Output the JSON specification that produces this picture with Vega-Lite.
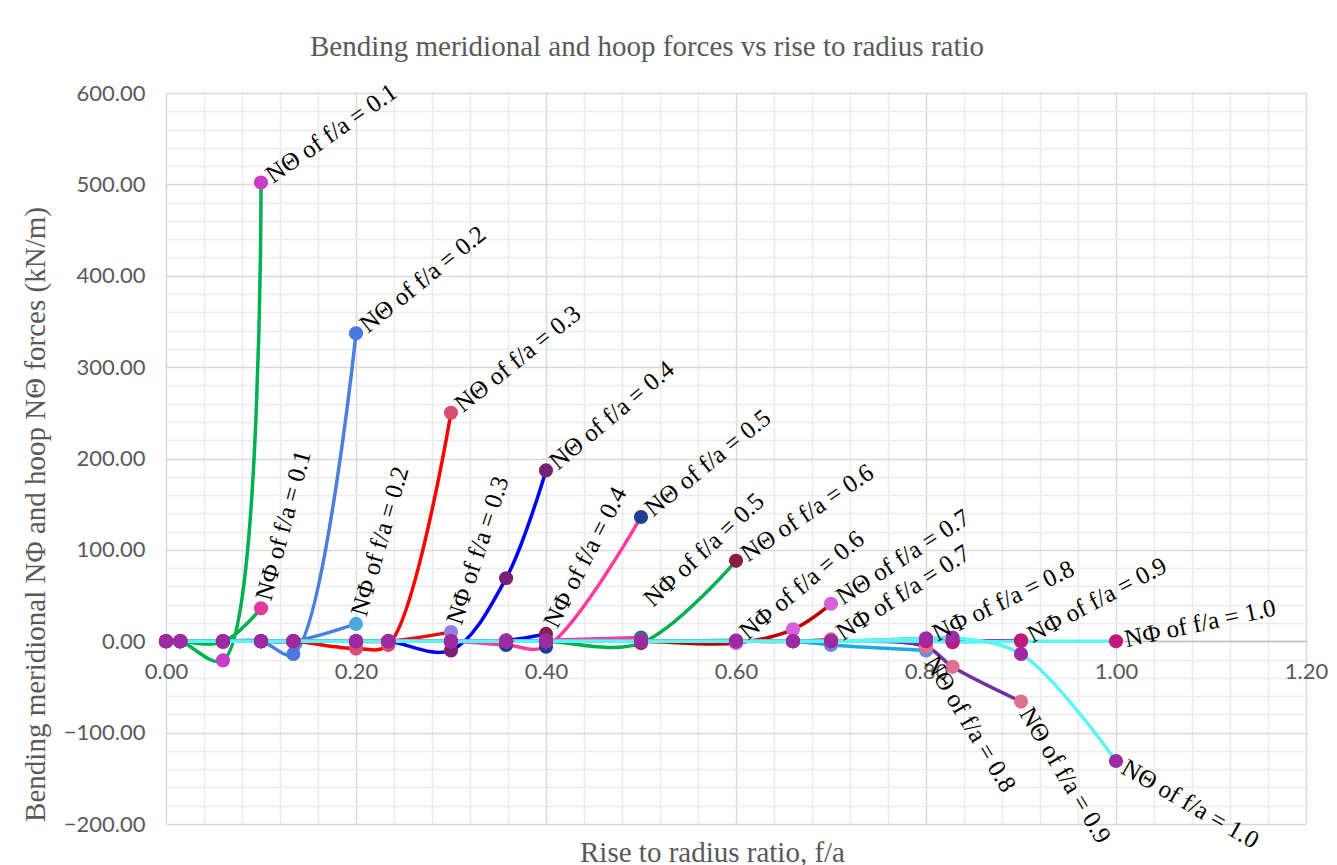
{
  "$schema": "https://vega.github.io/schema/vega-lite/v6.json",
  "width": 1140,
  "height": 731,
  "autosize": {"type": "none"},
  "padding": {"left": 166, "top": 93, "right": 31, "bottom": 41},
  "background": "white",
  "config": {"view": {"stroke": null}},
  "title": {
    "text": "Bending meridional and hoop forces vs rise to radius ratio",
    "font": "Liberation Serif",
    "fontSize": 29,
    "fontWeight": "normal",
    "color": "#595959",
    "anchor": "middle",
    "frame": "group",
    "dx": -89,
    "dy": 32,
    "offset": 26,
    "baseline": "alphabetic"
  },
  "datasets": {
    "pts": [
      {"s":"s01","x":0,"y":0},{"s":"s01","x":0.015,"y":0},{"s":"s01","x":0.06,"y":-1},{"s":"s01","x":0.1,"y":36},
      {"s":"s02","x":0,"y":0},{"s":"s02","x":0.015,"y":0},{"s":"s02","x":0.06,"y":-21},{"s":"s02","x":0.1,"y":502},
      {"s":"s03","x":0,"y":0},{"s":"s03","x":0.015,"y":0},{"s":"s03","x":0.06,"y":0},{"s":"s03","x":0.1,"y":0},{"s":"s03","x":0.134,"y":0},{"s":"s03","x":0.2,"y":19},
      {"s":"s04","x":0,"y":0},{"s":"s04","x":0.015,"y":0},{"s":"s04","x":0.06,"y":0},{"s":"s04","x":0.1,"y":0},{"s":"s04","x":0.134,"y":-14},{"s":"s04","x":0.2,"y":337},
      {"s":"s05","x":0,"y":0},{"s":"s05","x":0.015,"y":0},{"s":"s05","x":0.06,"y":0},{"s":"s05","x":0.1,"y":0},{"s":"s05","x":0.134,"y":0},{"s":"s05","x":0.2,"y":0},{"s":"s05","x":0.234,"y":0},{"s":"s05","x":0.3,"y":10},
      {"s":"s06","x":0,"y":0},{"s":"s06","x":0.015,"y":0},{"s":"s06","x":0.06,"y":0},{"s":"s06","x":0.1,"y":0},{"s":"s06","x":0.134,"y":0},{"s":"s06","x":0.2,"y":-8},{"s":"s06","x":0.234,"y":-4},{"s":"s06","x":0.3,"y":250},
      {"s":"s07","x":0,"y":0},{"s":"s07","x":0.015,"y":0},{"s":"s07","x":0.06,"y":0},{"s":"s07","x":0.1,"y":0},{"s":"s07","x":0.134,"y":0},{"s":"s07","x":0.2,"y":0},{"s":"s07","x":0.234,"y":0},{"s":"s07","x":0.3,"y":0},{"s":"s07","x":0.358,"y":1},{"s":"s07","x":0.4,"y":8},
      {"s":"s08","x":0,"y":0},{"s":"s08","x":0.015,"y":0},{"s":"s08","x":0.06,"y":0},{"s":"s08","x":0.1,"y":0},{"s":"s08","x":0.134,"y":0},{"s":"s08","x":0.2,"y":0},{"s":"s08","x":0.234,"y":0},{"s":"s08","x":0.3,"y":-10},{"s":"s08","x":0.358,"y":69},{"s":"s08","x":0.4,"y":187},
      {"s":"s09","x":0,"y":0},{"s":"s09","x":0.015,"y":0},{"s":"s09","x":0.06,"y":0},{"s":"s09","x":0.1,"y":0},{"s":"s09","x":0.134,"y":0},{"s":"s09","x":0.2,"y":0},{"s":"s09","x":0.234,"y":0},{"s":"s09","x":0.3,"y":0},{"s":"s09","x":0.358,"y":0},{"s":"s09","x":0.4,"y":1},{"s":"s09","x":0.5,"y":4},
      {"s":"s10","x":0,"y":0},{"s":"s10","x":0.015,"y":0},{"s":"s10","x":0.06,"y":0},{"s":"s10","x":0.1,"y":0},{"s":"s10","x":0.134,"y":0},{"s":"s10","x":0.2,"y":0},{"s":"s10","x":0.234,"y":0},{"s":"s10","x":0.3,"y":0},{"s":"s10","x":0.358,"y":-4},{"s":"s10","x":0.4,"y":-6},{"s":"s10","x":0.5,"y":136},
      {"s":"s11","x":0,"y":0},{"s":"s11","x":0.015,"y":0},{"s":"s11","x":0.06,"y":0},{"s":"s11","x":0.1,"y":0},{"s":"s11","x":0.134,"y":0},{"s":"s11","x":0.2,"y":0},{"s":"s11","x":0.234,"y":0},{"s":"s11","x":0.3,"y":0},{"s":"s11","x":0.358,"y":0},{"s":"s11","x":0.4,"y":0},{"s":"s11","x":0.5,"y":0},{"s":"s11","x":0.6,"y":1},
      {"s":"s12","x":0,"y":0},{"s":"s12","x":0.015,"y":0},{"s":"s12","x":0.06,"y":0},{"s":"s12","x":0.1,"y":0},{"s":"s12","x":0.134,"y":0},{"s":"s12","x":0.2,"y":0},{"s":"s12","x":0.234,"y":0},{"s":"s12","x":0.3,"y":0},{"s":"s12","x":0.358,"y":0},{"s":"s12","x":0.4,"y":0},{"s":"s12","x":0.5,"y":-2},{"s":"s12","x":0.6,"y":88},
      {"s":"s13","x":0,"y":0},{"s":"s13","x":0.015,"y":0},{"s":"s13","x":0.06,"y":0},{"s":"s13","x":0.1,"y":0},{"s":"s13","x":0.134,"y":0},{"s":"s13","x":0.2,"y":0},{"s":"s13","x":0.234,"y":0},{"s":"s13","x":0.3,"y":0},{"s":"s13","x":0.358,"y":0},{"s":"s13","x":0.4,"y":0},{"s":"s13","x":0.5,"y":0},{"s":"s13","x":0.6,"y":0},{"s":"s13","x":0.66,"y":0},{"s":"s13","x":0.7,"y":2},
      {"s":"s14","x":0,"y":0},{"s":"s14","x":0.015,"y":0},{"s":"s14","x":0.06,"y":0},{"s":"s14","x":0.1,"y":0},{"s":"s14","x":0.134,"y":0},{"s":"s14","x":0.2,"y":0},{"s":"s14","x":0.234,"y":0},{"s":"s14","x":0.3,"y":0},{"s":"s14","x":0.358,"y":0},{"s":"s14","x":0.4,"y":0},{"s":"s14","x":0.5,"y":0},{"s":"s14","x":0.6,"y":-2},{"s":"s14","x":0.66,"y":13},{"s":"s14","x":0.7,"y":41},
      {"s":"s15","x":0,"y":0},{"s":"s15","x":0.015,"y":0},{"s":"s15","x":0.06,"y":0},{"s":"s15","x":0.1,"y":0},{"s":"s15","x":0.134,"y":0},{"s":"s15","x":0.2,"y":0},{"s":"s15","x":0.234,"y":0},{"s":"s15","x":0.3,"y":0},{"s":"s15","x":0.358,"y":0},{"s":"s15","x":0.4,"y":0},{"s":"s15","x":0.5,"y":0},{"s":"s15","x":0.6,"y":0},{"s":"s15","x":0.66,"y":0},{"s":"s15","x":0.7,"y":0},{"s":"s15","x":0.8,"y":3},
      {"s":"s16","x":0,"y":0},{"s":"s16","x":0.015,"y":0},{"s":"s16","x":0.06,"y":0},{"s":"s16","x":0.1,"y":0},{"s":"s16","x":0.134,"y":0},{"s":"s16","x":0.2,"y":0},{"s":"s16","x":0.234,"y":0},{"s":"s16","x":0.3,"y":0},{"s":"s16","x":0.358,"y":0},{"s":"s16","x":0.4,"y":0},{"s":"s16","x":0.5,"y":0},{"s":"s16","x":0.6,"y":0},{"s":"s16","x":0.66,"y":0},{"s":"s16","x":0.7,"y":-4},{"s":"s16","x":0.8,"y":-10},
      {"s":"s17","x":0,"y":0},{"s":"s17","x":0.015,"y":0},{"s":"s17","x":0.06,"y":0},{"s":"s17","x":0.1,"y":0},{"s":"s17","x":0.134,"y":0},{"s":"s17","x":0.2,"y":0},{"s":"s17","x":0.234,"y":0},{"s":"s17","x":0.3,"y":0},{"s":"s17","x":0.358,"y":0},{"s":"s17","x":0.4,"y":0},{"s":"s17","x":0.5,"y":0},{"s":"s17","x":0.6,"y":0},{"s":"s17","x":0.66,"y":0},{"s":"s17","x":0.7,"y":0},{"s":"s17","x":0.8,"y":0},{"s":"s17","x":0.828,"y":0},{"s":"s17","x":0.9,"y":1},
      {"s":"s18","x":0,"y":0},{"s":"s18","x":0.015,"y":0},{"s":"s18","x":0.06,"y":0},{"s":"s18","x":0.1,"y":0},{"s":"s18","x":0.134,"y":0},{"s":"s18","x":0.2,"y":0},{"s":"s18","x":0.234,"y":0},{"s":"s18","x":0.3,"y":0},{"s":"s18","x":0.358,"y":0},{"s":"s18","x":0.4,"y":0},{"s":"s18","x":0.5,"y":0},{"s":"s18","x":0.6,"y":0},{"s":"s18","x":0.66,"y":0},{"s":"s18","x":0.7,"y":0},{"s":"s18","x":0.8,"y":-6},{"s":"s18","x":0.828,"y":-28},{"s":"s18","x":0.9,"y":-66},
      {"s":"s19","x":0,"y":0},{"s":"s19","x":0.015,"y":0},{"s":"s19","x":0.06,"y":0},{"s":"s19","x":0.1,"y":0},{"s":"s19","x":0.134,"y":0},{"s":"s19","x":0.2,"y":0},{"s":"s19","x":0.234,"y":0},{"s":"s19","x":0.3,"y":0},{"s":"s19","x":0.358,"y":0},{"s":"s19","x":0.4,"y":0},{"s":"s19","x":0.5,"y":0},{"s":"s19","x":0.6,"y":0},{"s":"s19","x":0.66,"y":0},{"s":"s19","x":0.7,"y":0},{"s":"s19","x":0.8,"y":0},{"s":"s19","x":0.828,"y":-1},{"s":"s19","x":0.9,"y":0},{"s":"s19","x":1.0,"y":0},
      {"s":"s20","x":0,"y":0},{"s":"s20","x":0.015,"y":0},{"s":"s20","x":0.06,"y":0},{"s":"s20","x":0.1,"y":0},{"s":"s20","x":0.134,"y":0},{"s":"s20","x":0.2,"y":0},{"s":"s20","x":0.234,"y":0},{"s":"s20","x":0.3,"y":0},{"s":"s20","x":0.358,"y":0},{"s":"s20","x":0.4,"y":0},{"s":"s20","x":0.5,"y":0},{"s":"s20","x":0.6,"y":0},{"s":"s20","x":0.66,"y":0},{"s":"s20","x":0.7,"y":0},{"s":"s20","x":0.8,"y":3},{"s":"s20","x":0.828,"y":4},{"s":"s20","x":0.9,"y":-14},{"s":"s20","x":1.0,"y":-131}
    ],
    "lbl": [
      {"s":"s01","label":"NΦ of f/a = 0.1","x":0.1,"y":36},
      {"s":"s02","label":"NΘ of f/a = 0.1","x":0.1,"y":502},
      {"s":"s03","label":"NΦ of f/a = 0.2","x":0.2,"y":19},
      {"s":"s04","label":"NΘ of f/a = 0.2","x":0.2,"y":337},
      {"s":"s05","label":"NΦ of f/a = 0.3","x":0.3,"y":10},
      {"s":"s06","label":"NΘ of f/a = 0.3","x":0.3,"y":250},
      {"s":"s07","label":"NΦ of f/a = 0.4","x":0.4,"y":8},
      {"s":"s08","label":"NΘ of f/a = 0.4","x":0.4,"y":187},
      {"s":"s09","label":"NΦ of f/a = 0.5","x":0.5,"y":36},
      {"s":"s10","label":"NΘ of f/a = 0.5","x":0.5,"y":136},
      {"s":"s11","label":"NΦ of f/a = 0.6","x":0.6,"y":1},
      {"s":"s12","label":"NΘ of f/a = 0.6","x":0.6,"y":88},
      {"s":"s13","label":"NΦ of f/a = 0.7","x":0.7,"y":2},
      {"s":"s14","label":"NΘ of f/a = 0.7","x":0.7,"y":41},
      {"s":"s15","label":"NΦ of f/a = 0.8","x":0.8,"y":3},
      {"s":"s16","label":"NΘ of f/a = 0.8","x":0.8,"y":-10},
      {"s":"s17","label":"NΦ of f/a = 0.9","x":0.9,"y":1},
      {"s":"s18","label":"NΘ of f/a = 0.9","x":0.9,"y":-66},
      {"s":"s19","label":"NΦ of f/a = 1.0","x":1.0,"y":0},
      {"s":"s20","label":"NΘ of f/a = 1.0","x":1.0,"y":-131}
    ]
  },
  "resolve": {"axis": {"x": "independent", "y": "independent"}},
  "layer": [
    {
      "data": {"name": "pts"},
      "mark": {"type": "line", "interpolate": "catmull-rom", "strokeWidth": 3.5},
      "encoding": {
        "x": {
          "field": "x", "type": "quantitative",
          "scale": {"domain": [0, 1.2], "nice": false, "zero": false},
          "axis": {
            "orient": "bottom", "offset": -183,
            "values": [0, 0.2, 0.4, 0.6, 0.8, 1.0, 1.2], "format": ".2f",
            "grid": true, "gridColor": "#D9D9D9", "gridWidth": 1.5,
            "domain": true, "domainColor": "#BFBFBF", "domainWidth": 1.5,
            "ticks": false, "labelPadding": 20, "labelFlush": false,
            "labelFont": "Lato", "labelFontSize": 22, "labelColor": "#595959",
            "title": "Rise to radius ratio, f/a",
            "titleFont": "Liberation Serif", "titleFontSize": 29, "titleFontWeight": "normal", "titleColor": "#595959",
            "titleX": 546, "titleY": 211, "titleBaseline": "middle", "titleAlign": "center"
          }
        },
        "y": {
          "field": "y", "type": "quantitative",
          "scale": {"domain": [-200, 600], "nice": false, "zero": false},
          "axis": {
            "orient": "left",
            "values": [-200, -100, 0, 100, 200, 300, 400, 500, 600], "format": ".2f",
            "grid": true, "gridColor": "#D9D9D9", "gridWidth": 1.5,
            "domain": false, "ticks": false, "labelPadding": 21, "labelFlush": false,
            "labelFont": "Lato", "labelFontSize": 22, "labelColor": "#595959",
            "title": "Bending meridional  NΦ and hoop NΘ forces (kN/m)",
            "titleFont": "Liberation Serif", "titleFontSize": 29, "titleFontWeight": "normal", "titleColor": "#595959",
            "titleAngle": 270, "titleX": -131, "titleY": 421, "titleBaseline": "middle", "titleAlign": "center"
          }
        },
        "stroke": {
          "field": "s", "type": "nominal", "legend": null,
          "scale": {
            "domain": ["s01","s02","s03","s04","s05","s06","s07","s08","s09","s10","s11","s12","s13","s14","s15","s16","s17","s18","s19","s20"],
            "range": ["#00B050","#00B050","#4A7FE0","#4A7FE0","#FF0000","#FF0000","#0000FF","#0000FF","#FF3C9C","#FF3C9C","#00B050","#00B050","#C00000","#C00000","#1EA8E8","#1EA8E8","#7030A0","#7030A0","#5CF4F4","#5CF4F4"]
          }
        }
      }
    },
    {
      "data": {"name": "pts"},
      "mark": {"type": "circle", "size": 200, "opacity": 1},
      "encoding": {
        "x": {
          "field": "x", "type": "quantitative",
          "axis": {
            "orient": "top", "labels": false, "ticks": false, "domain": false, "title": null,
            "grid": true, "gridColor": "#EBEBEB", "gridWidth": 1.5,
            "values": [0.04,0.08,0.12,0.16,0.24,0.28,0.32,0.36,0.44,0.48,0.52,0.56,0.64,0.68,0.72,0.76,0.84,0.88,0.92,0.96,1.04,1.08,1.12,1.16]
          }
        },
        "y": {
          "field": "y", "type": "quantitative",
          "axis": {
            "orient": "right", "labels": false, "ticks": false, "domain": false, "title": null,
            "grid": true, "gridColor": "#EBEBEB", "gridWidth": 1.5,
            "values": [-180,-160,-140,-120,-80,-60,-40,-20,20,40,60,80,120,140,160,180,220,240,260,280,320,340,360,380,420,440,460,480,520,540,560,580]
          }
        },
        "fill": {
          "field": "s", "type": "nominal", "legend": null,
          "scale": {
            "domain": ["s01","s02","s03","s04","s05","s06","s07","s08","s09","s10","s11","s12","s13","s14","s15","s16","s17","s18","s19","s20"],
            "range": ["#E03A9C","#C83CC8","#4EA8DC","#4878E0","#9080E0","#D64F70","#8E1A55","#772077","#2E6A8E","#1C3F96","#8C6FD8","#8A1E40","#DC6080","#D660D8","#A02A9A","#5E8FE6","#C2187A","#E07090","#C2187A","#9C2AA2"]
          }
        }
      }
    },
    {
      "data": {"name": "lbl"},
      "mark": {"type": "text", "font": "Liberation Serif", "fontSize": 25, "align": "left", "baseline": "middle", "dx": 9, "color": "#000000"},
      "encoding": {
        "x": {"field": "x", "type": "quantitative", "axis": null},
        "y": {"field": "y", "type": "quantitative", "axis": null},
        "text": {"field": "label", "type": "nominal"},
        "angle": {
          "condition": [
            {"test": "datum.s === 's01'", "value": 285},
            {"test": "datum.s === 's02'", "value": 325},
            {"test": "datum.s === 's03'", "value": 286},
            {"test": "datum.s === 's04'", "value": 321},
            {"test": "datum.s === 's05'", "value": 288},
            {"test": "datum.s === 's06'", "value": 321},
            {"test": "datum.s === 's07'", "value": 297},
            {"test": "datum.s === 's08'", "value": 320},
            {"test": "datum.s === 's09'", "value": 317},
            {"test": "datum.s === 's10'", "value": 321},
            {"test": "datum.s === 's11'", "value": 320},
            {"test": "datum.s === 's12'", "value": 326},
            {"test": "datum.s === 's13'", "value": 327},
            {"test": "datum.s === 's14'", "value": 327},
            {"test": "datum.s === 's15'", "value": 334},
            {"test": "datum.s === 's16'", "value": 59},
            {"test": "datum.s === 's17'", "value": 332},
            {"test": "datum.s === 's18'", "value": 59},
            {"test": "datum.s === 's19'", "value": 348},
            {"test": "datum.s === 's20'", "value": 30}
          ],
          "value": 0
        }
      }
    }
  ]
}
